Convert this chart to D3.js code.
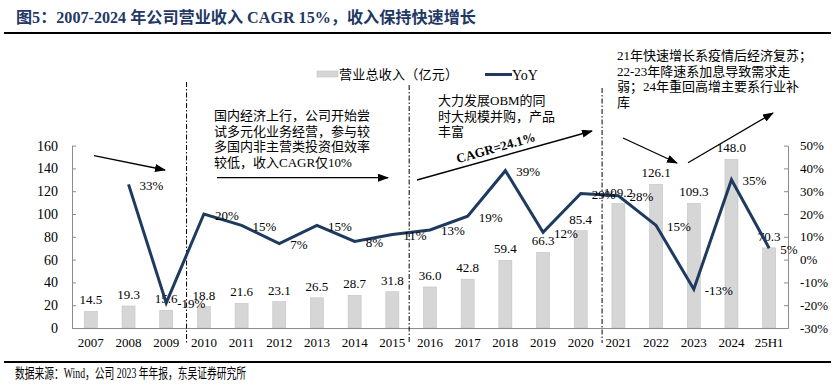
<!DOCTYPE html>
<html>
<head>
<meta charset="utf-8">
<script src="https://cdn.jsdelivr.net/npm/d3@7"></script>
<style>
  body { margin: 0; background: #fff; }
  svg text { font-family: "Liberation Serif", "Times New Roman", "Noto Sans CJK SC", serif; fill: #000; }
</style>
</head>
<body>
<div id="chart"></div>
<script>
// Chart data
var years = ["2007", "2008", "2009", "2010", "2011", "2012", "2013", "2014", "2015", "2016",
  "2017", "2018", "2019", "2020", "2021", "2022", "2023", "2024", "25H1"];
var revenue = [14.5, 19.3, 15.6, 18.8, 21.6, 23.1, 26.5, 28.7, 31.8, 36.0,
  42.8, 59.4, 66.3, 85.4, 109.2, 126.1, 109.3, 148.0, 70.3];
var yoy = [null, 33, -19, 20, 15, 7, 15, 8, 11, 13, 19, 39, 12, 29, 28, 15, -13, 35, 5];
var leftTicks = [0, 20, 40, 60, 80, 100, 120, 140, 160];
var rightTicks = [-30, -20, -10, 0, 10, 20, 30, 40, 50];

var titleText = "图5：2007-2024 年公司营业收入 CAGR 15%，收入保持快速增长";
var sourceText = "数据来源：Wind，公司 2023 年年报，东吴证券研究所";
var legendNames = ["营业总收入（亿元）", "YoY"];
var note1 = ["国内经济上行，公司开始尝", "试多元化业务经营，参与较", "多国内非主营类投资但效率", "较低，收入CAGR仅10%"];
var note2 = ["大力发展OBM的同", "时大规模并购，产品", "丰富"];
var note3 = ["21年快速增长系疫情后经济复苏；", "22-23年降速系加息导致需求走", "弱；24年重回高增主要系行业补", "库"];
var cagrText = "CAGR=24.1%";

// Layout
var svgWidth = 838;
var svgHeight = 387;
var plot = { left: 72, right: 788, top: 145.6, bottom: 328 };
var barColor = "#d6d6d6";
var lineColor = "#1f3a5f";
var axisColor = "#8c8c8c";

var svg = d3.select("#chart")
  .append("svg")
  .attr("width", svgWidth)
  .attr("height", svgHeight);

var defs = svg.append("defs");
defs.append("marker")
  .attr("id", "arrow")
  .attr("markerUnits", "userSpaceOnUse")
  .attr("markerWidth", 11)
  .attr("markerHeight", 8)
  .attr("refX", 10)
  .attr("refY", 4)
  .attr("orient", "auto")
  .append("path")
  .attr("d", "M0,0 L11,4 L0,8 Z")
  .attr("fill", "#000");

// Scales
var xScale = d3.scaleBand()
  .domain(years)
  .range([plot.left, plot.right])
  .padding(0);

var yLeft = d3.scaleLinear()
  .domain([0, 160])
  .range([plot.bottom, plot.top]);

var yRight = d3.scaleLinear()
  .domain([-30, 50])
  .range([plot.bottom, plot.top]);

var cx = function(d) { return xScale(d) + xScale.bandwidth() / 2; };

// Title + rules
svg.append("text")
  .attr("x", 16)
  .attr("y", 23)
  .attr("textLength", 460)
  .attr("lengthAdjust", "spacingAndGlyphs")
  .style("font-size", "16px")
  .style("font-weight", "bold")
  .style("fill", "#1f3864")
  .text(titleText);

svg.append("line")
  .attr("x1", 4).attr("x2", 831)
  .attr("y1", 33).attr("y2", 33)
  .attr("stroke", "#000")
  .attr("stroke-width", 2.2);

svg.append("line")
  .attr("x1", 4).attr("x2", 831)
  .attr("y1", 362).attr("y2", 362)
  .attr("stroke", "#000")
  .attr("stroke-width", 2);

svg.append("text")
  .attr("x", 15)
  .attr("y", 378)
  .attr("textLength", 231)
  .attr("lengthAdjust", "spacingAndGlyphs")
  .style("font-size", "14px")
  .text(sourceText);

// Axes
var leftAxis = d3.axisLeft(yLeft).tickValues(leftTicks).tickSizeInner(-4).tickSizeOuter(0).tickPadding(14);
var rightAxis = d3.axisRight(yRight).tickValues(rightTicks).tickSizeInner(-4).tickSizeOuter(0).tickPadding(12)
  .tickFormat(function(d) { return d + "%"; });

var gLeft = svg.append("g")
  .attr("transform", `translate(${plot.left}, 0)`)
  .call(leftAxis);
gLeft.selectAll("text").style("font-size", "14px").attr("font-family", null);

var gRight = svg.append("g")
  .attr("transform", `translate(${plot.right}, 0)`)
  .call(rightAxis);
gRight.selectAll("text").style("font-size", "13px").attr("font-family", null);

[gLeft, gRight].forEach(function(g) {
  g.select(".domain").attr("stroke", axisColor);
  g.selectAll(".tick line").attr("stroke", axisColor);
  g.selectAll(".tick text").attr("fill", "#000");
});

// bars
svg.append("g").selectAll("rect")
  .data(years)
  .enter()
  .append("rect")
  .attr("x", function(d) { return cx(d) - 6.5; })
  .attr("y", function(d, i) { return yLeft(revenue[i]); })
  .attr("width", 13)
  .attr("height", function(d, i) { return plot.bottom - yLeft(revenue[i]); })
  .attr("fill", barColor)
  .attr("stroke", "#c4c4c4")
  .attr("stroke-width", 0.6);

// x axis line + labels
var bottomAxis = d3.axisBottom(xScale).tickSize(0).tickPadding(10);
var gBottom = svg.append("g")
  .attr("transform", `translate(0, ${plot.bottom})`)
  .call(bottomAxis);
gBottom.select(".domain").attr("stroke", axisColor);
gBottom.selectAll("text").style("font-size", "13px").attr("font-family", null).attr("fill", "#000");

// separators (dash-dot)
var seps = [
  { x: xScale("2010") + 1.5, top: 82 },
  { x: xScale("2016") - 2, top: 85 },
  { x: xScale("2021") + 2.5, top: 88 }
];
svg.append("g").selectAll("line")
  .data(seps)
  .enter()
  .append("line")
  .attr("x1", d => d.x).attr("x2", d => d.x)
  .attr("y1", d => d.top).attr("y2", 343)
  .attr("stroke", "#000")
  .attr("stroke-width", 1)
  .attr("stroke-dasharray", "5,2,1.5,2");

// bar value labels
svg.append("g").selectAll("text")
  .data(years)
  .enter()
  .append("text")
  .attr("x", d => cx(d))
  .attr("y", function(d, i) { return yLeft(revenue[i]) - 7; })
  .attr("text-anchor", "middle")
  .style("font-size", "13px")
  .text(function(d, i) { return revenue[i].toFixed(1); });

// YoY line
var line = d3.line()
  .defined(function(d, i) { return yoy[i] !== null; })
  .x(d => cx(d))
  .y(function(d, i) { return yRight(yoy[i]); });

svg.append("path")
  .datum(years)
  .attr("d", line)
  .attr("fill", "none")
  .attr("stroke", lineColor)
  .attr("stroke-width", 3)
  .attr("stroke-linejoin", "miter");

svg.append("g").selectAll("text")
  .data(years.filter(function(d, i) { return yoy[i] !== null; }))
  .enter()
  .append("text")
  .attr("x", d => cx(d) + 11)
  .attr("y", d => yRight(yoy[years.indexOf(d)]) + 5.5)
  .style("font-size", "13px")
  .text(d => yoy[years.indexOf(d)] + "%");

// legend
svg.append("rect")
  .attr("x", 317).attr("y", 71)
  .attr("width", 21).attr("height", 6)
  .attr("fill", barColor)
  .attr("stroke", "#c4c4c4")
  .attr("stroke-width", 0.6);
svg.append("text")
  .attr("x", 339).attr("y", 79)
  .attr("textLength", 119)
  .attr("lengthAdjust", "spacing")
  .style("font-size", "13px")
  .text(legendNames[0]);
svg.append("line")
  .attr("x1", 485).attr("x2", 512)
  .attr("y1", 74.5).attr("y2", 74.5)
  .attr("stroke", lineColor)
  .attr("stroke-width", 3);
svg.append("text")
  .attr("x", 512).attr("y", 79.5)
  .style("font-size", "14px")
  .text(legendNames[1]);

// annotation text blocks
function textBlock(lines, x, y0, step) {
  var t = svg.append("text")
    .attr("x", x)
    .attr("y", y0)
    .style("font-size", "13px");
  t.selectAll("tspan")
    .data(lines)
    .enter()
    .append("tspan")
    .attr("x", x)
    .attr("dy", (d, i) => i === 0 ? 0 : step)
    .text(d => d);
}
textBlock(note1, 214, 120, 15.5);
textBlock(note2, 438, 105, 15.5);
textBlock(note3, 617, 60, 15.5);

// arrows
var arrows = [
  [94, 155.7, 165, 170],
  [217, 177.7, 388, 177.7],
  [417, 180, 592, 131],
  [623, 138, 677, 163],
  [688, 162.7, 773, 113]
];
svg.append("g").selectAll("line")
  .data(arrows)
  .enter()
  .append("line")
  .attr("x1", d => d[0]).attr("y1", d => d[1])
  .attr("x2", d => d[2]).attr("y2", d => d[3])
  .attr("stroke", "#000")
  .attr("stroke-width", 1.3)
  .attr("marker-end", "url(#arrow)");

svg.append("text")
  .attr("transform", "translate(497, 152) rotate(-16)")
  .attr("text-anchor", "middle")
  .style("font-size", "13px")
  .style("font-weight", "bold")
  .text(cagrText);
</script>
</body>
</html>
